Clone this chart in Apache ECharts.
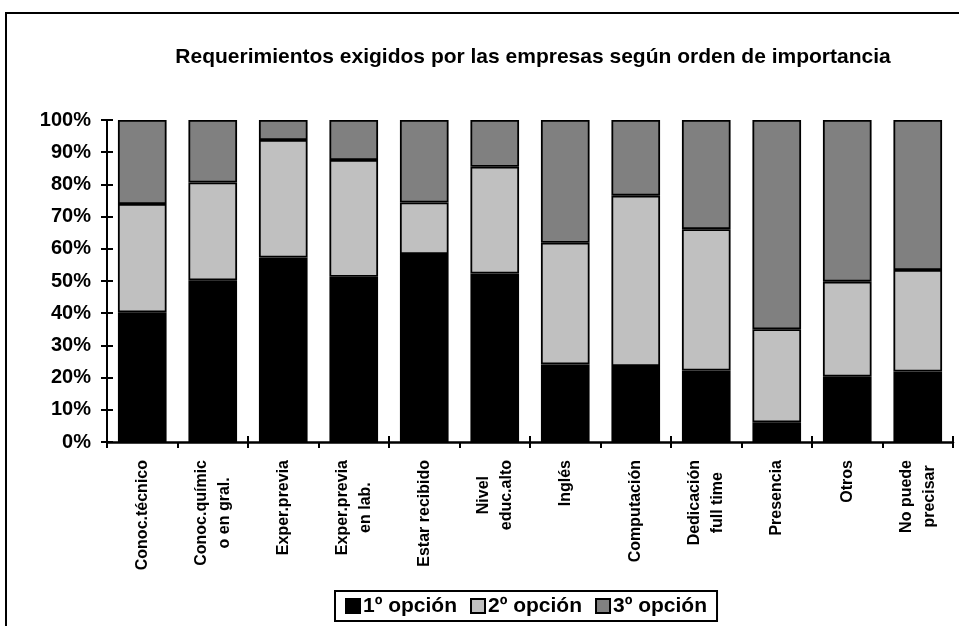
<!DOCTYPE html>
<html>
<head>
<meta charset="utf-8">
<script src="https://cdn.jsdelivr.net/npm/echarts@6/dist/echarts.min.js"></script>
<style>
html,body{margin:0;padding:0;background:#fff;}
#main{width:959px;height:626px;}
</style>
</head>
<body>
<div id="main"></div>
<script>
const titleText = 'Requerimientos exigidos por las empresas según orden de importancia';
const categories = ['Conoc.técnico', 'Conoc.químic\no en gral.', 'Exper.previa', 'Exper.previa\nen lab.', 'Estar recibido', 'Nivel\neduc.alto', 'Inglés', 'Computación', 'Dedicación\nfull time', 'Presencia', 'Otros', 'No puede\nprecisar'];
const seriesNames = ['1º opción', '2º opción', '3º opción'];
const opcion1 = [40.3, 50.2, 57.3, 51.3, 58.4, 52.3, 24.1, 23.6, 22.2, 6.1, 20.3, 21.9];
const opcion2 = [33.6, 30.4, 36.5, 36.3, 16.0, 33.2, 37.8, 52.9, 43.9, 28.9, 29.5, 31.5];
const opcion3 = [26.1, 19.4, 6.2, 12.4, 25.6, 14.5, 38.1, 23.5, 33.9, 65.0, 50.2, 46.6];
const yTicks = [0, 10, 20, 30, 40, 50, 60, 70, 80, 90, 100];

const FONT = "'Liberation Sans', Arial, sans-serif";
const chart = echarts.init(document.getElementById('main'), null, {renderer: 'canvas'});
const mk = (name, data, color) => ({
  name, type: 'bar', stack: 'total', data,
  barCategoryGap: '31%',
  xAxisIndex: 0, yAxisIndex: 0,
  itemStyle: {color, borderColor: '#000', borderWidth: 1.8},
  emphasis: {disabled: true}
});
chart.setOption({
  animation: false,
  backgroundColor: '#fff',
  title: {
    text: titleText, left: 528, top: 42, textAlign: 'center',
    textStyle: {fontFamily: FONT, fontWeight: 'bold', fontSize: 21, color: '#000'}
  },
  graphic: [{
    type: 'rect', shape: {x: 6, y: 13, width: 1000, height: 700},
    style: {fill: 'none', stroke: '#000', lineWidth: 2}, silent: true
  }],
  legend: {
    data: seriesNames, left: 335, top: 591,
    orient: 'horizontal', itemGap: 13, itemWidth: 14, itemHeight: 14,
    icon: 'rect', padding: [3, 10, 3, 10],
    borderColor: '#000', borderWidth: 2,
    textStyle: {fontFamily: FONT, fontWeight: 'bold', fontSize: 21, lineHeight: 24, color: '#000', padding: [0, 0, 0, -2]},
    selectedMode: false
  },
  grid: {left: 107, right: 6, top: 120, bottom: 184},
  xAxis: [{
    type: 'category', data: categories, position: 'bottom',
    axisLine: {lineStyle: {color: '#000', width: 2.5}},
    axisTick: {show: true, inside: false, length: 6, lineStyle: {color: '#000', width: 2}},
    axisLabel: {
      rotate: 90, interval: 0, margin: 18,
      formatter: v => v.split('\n').map(s => '{c|' + s + '}').join('\n'),
      rich: {c: {align: 'center', fontFamily: FONT, fontWeight: 'bold', fontSize: 16, lineHeight: 23, color: '#000'}}
    }
  }, {
    type: 'category', data: categories, position: 'bottom',
    axisLine: {show: false},
    axisTick: {show: true, inside: true, length: 6, lineStyle: {color: '#000', width: 2}},
    axisLabel: {show: false}
  }],
  yAxis: [{
    type: 'value', min: 0, max: 100, interval: 10,
    axisLine: {show: true, lineStyle: {color: '#000', width: 2}},
    axisTick: {show: true, length: 6, lineStyle: {color: '#000', width: 2}},
    splitLine: {show: false},
    axisLabel: {
      margin: 16, fontFamily: FONT, fontWeight: 'bold', fontSize: 20, color: '#000',
      formatter: v => (yTicks.indexOf(v) >= 0 ? v + '%' : '')
    }
  }, {
    type: 'value', min: 0, max: 100, interval: 10, position: 'left',
    axisLine: {show: false},
    axisTick: {show: true, inside: true, length: 6, lineStyle: {color: '#000', width: 2}},
    splitLine: {show: false}, axisLabel: {show: false}
  }],
  series: [
    mk(seriesNames[0], opcion1, '#000000'),
    mk(seriesNames[1], opcion2, '#c0c0c0'),
    mk(seriesNames[2], opcion3, '#808080')
  ]
});
</script>
</body>
</html>
